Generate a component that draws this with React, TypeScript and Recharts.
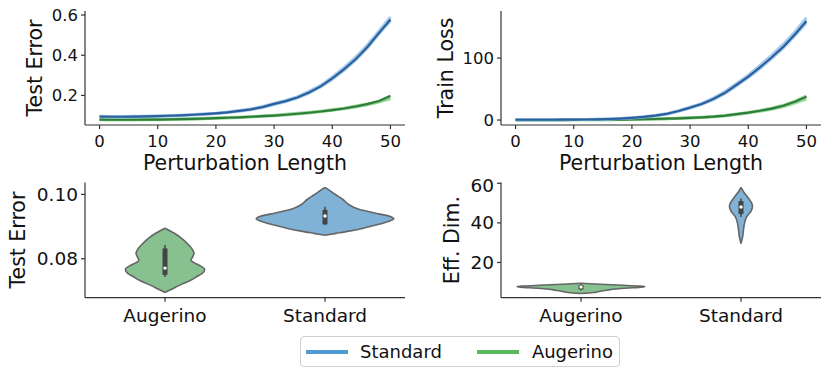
import { LineChart, Line, XAxis, YAxis, ComposedChart, Area, ReferenceLine, ReferenceDot } from 'recharts';

const F = 'DejaVu Sans';

// perturbation lengths
const steps = [0, 2, 4, 6, 8, 10, 12, 14, 16, 18, 20, 22, 24, 26, 28, 30, 32, 34, 36, 38, 40, 42, 44, 46, 48, 50];

// test error per run
const errStd = [0.095, 0.094, 0.094, 0.095, 0.096, 0.097, 0.099, 0.101, 0.104, 0.107, 0.111, 0.116, 0.123, 0.131, 0.142, 0.158, 0.172, 0.19, 0.215, 0.245, 0.285, 0.33, 0.38, 0.44, 0.51, 0.578];
const errStdB = [0.096, 0.095, 0.095, 0.096, 0.097, 0.098, 0.1, 0.102, 0.105, 0.108, 0.112, 0.118, 0.125, 0.133, 0.145, 0.16, 0.175, 0.194, 0.22, 0.25, 0.292, 0.338, 0.39, 0.45, 0.52, 0.59];
const errStdC = [0.094, 0.093, 0.093, 0.094, 0.095, 0.096, 0.098, 0.1, 0.103, 0.106, 0.11, 0.115, 0.121, 0.129, 0.14, 0.155, 0.17, 0.188, 0.212, 0.242, 0.28, 0.325, 0.375, 0.435, 0.505, 0.572];
const errAug = [0.08, 0.079, 0.079, 0.079, 0.08, 0.08, 0.081, 0.082, 0.083, 0.085, 0.087, 0.089, 0.091, 0.094, 0.097, 0.1, 0.104, 0.109, 0.114, 0.12, 0.127, 0.135, 0.145, 0.157, 0.172, 0.198];
const errAugB = [0.081, 0.08, 0.08, 0.08, 0.081, 0.081, 0.082, 0.083, 0.084, 0.086, 0.088, 0.09, 0.092, 0.095, 0.098, 0.101, 0.106, 0.111, 0.116, 0.122, 0.129, 0.137, 0.147, 0.158, 0.17, 0.188];
const errAugC = [0.079, 0.078, 0.078, 0.078, 0.079, 0.079, 0.08, 0.081, 0.082, 0.084, 0.086, 0.088, 0.09, 0.093, 0.096, 0.099, 0.103, 0.108, 0.113, 0.119, 0.126, 0.134, 0.143, 0.154, 0.167, 0.185];

// train loss per run
const lossStd = [0.5, 0.5, 0.5, 0.5, 0.6, 0.7, 0.9, 1.2, 1.7, 2.4, 3.5, 5, 7, 10, 14.5, 20, 26, 34, 44, 57, 70, 85, 101, 118, 138, 160];
const lossStdB = [0.5, 0.5, 0.5, 0.5, 0.6, 0.7, 0.9, 1.3, 1.8, 2.5, 3.6, 5.2, 7.3, 10.4, 15, 20.8, 27, 35.5, 46, 59, 72.5, 88, 104.5, 122, 142, 165];
const lossStdC = [0.5, 0.5, 0.5, 0.5, 0.6, 0.7, 0.9, 1.2, 1.6, 2.3, 3.4, 4.8, 6.8, 9.7, 14, 19.4, 25.3, 33, 43, 55.5, 68.5, 83, 99, 116, 136, 157];
const lossAug = [0.2, 0.2, 0.2, 0.2, 0.2, 0.3, 0.3, 0.4, 0.5, 0.7, 1, 1.3, 1.7, 2.2, 2.8, 3.5, 4.3, 5.4, 7, 9.5, 12, 15, 18.5, 23, 29.5, 37.5];
const lossAugB = [0.2, 0.2, 0.2, 0.2, 0.2, 0.3, 0.3, 0.4, 0.5, 0.7, 1, 1.3, 1.6, 2.1, 2.7, 3.4, 4.2, 5.2, 6.7, 9, 11.4, 14.2, 17.4, 21.5, 27.5, 34];
const lossAugC = [0.2, 0.2, 0.2, 0.2, 0.2, 0.3, 0.3, 0.4, 0.5, 0.7, 1, 1.3, 1.7, 2.2, 2.9, 3.6, 4.4, 5.6, 7.2, 9.8, 12.4, 15.5, 19, 23.8, 30.5, 39];

// violins: levels and half-widths (in category units)
const cats = ['Augerino', 'Standard'];
const augErrLevels = [0.0695, 0.0703, 0.0712, 0.0722, 0.0733, 0.0745, 0.0754, 0.0767, 0.078, 0.0788, 0.0796, 0.0805, 0.0817, 0.083, 0.0848, 0.0865, 0.088, 0.0895];
const augErrWidths = [0, 0.03, 0.067, 0.11, 0.16, 0.2, 0.231, 0.248, 0.213, 0.18, 0.163, 0.172, 0.181, 0.17, 0.138, 0.1, 0.056, 0];
const stdErrLevels = [0.0873, 0.0879, 0.0886, 0.0895, 0.0905, 0.0915, 0.0924, 0.0934, 0.0942, 0.0949, 0.0958, 0.0968, 0.0985, 0.0999, 0.1012, 0.1022];
const stdErrWidths = [0, 0.07, 0.15, 0.24, 0.32, 0.39, 0.43, 0.39, 0.31, 0.25, 0.19, 0.15, 0.11, 0.067, 0.03, 0];
const augDimLevels = [4.3, 4.8, 5.5, 6.0, 6.5, 7.0, 7.5, 7.8, 8.1, 8.5, 9.0, 9.5];
const augDimWidths = [0, 0.08, 0.12, 0.16, 0.2, 0.27, 0.38, 0.4, 0.36, 0.26, 0.12, 0];
const stdDimLevels = [29.6, 32.9, 35.5, 38, 40.5, 43, 45.6, 48.1, 49.8, 52.3, 54.8, 56.5, 57.9];
const stdDimWidths = [0, 0.01, 0.014, 0.018, 0.024, 0.035, 0.06, 0.072, 0.068, 0.048, 0.024, 0.01, 0];

// box stats: [whisker lo, q1, median, q3, whisker hi]
const augErrBox = [0.0743, 0.075, 0.0771, 0.0832, 0.0843];
const stdErrBox = [0.0905, 0.0907, 0.0933, 0.0952, 0.0962];
const augDimBox = [5.8, 6.4, 7.6, 8.6, 9.2];
const stdDimBox = [43, 44.5, 48, 51, 52.3];

const BLUE = '#2c5f9e';
const BLUE_L = '#8fbfe6';
const GREEN = '#2f7d3a';
const GREEN_L = '#86cf86';

const lineRows = (a: number[], b: number[], c: number[], d: number[], e: number[], f: number[]) =>
  steps.map((x, i) => ({ x, s1: a[i], s2: b[i], s3: c[i], a1: d[i], a2: e[i], a3: f[i] }));

const errRows = lineRows(errStd, errStdB, errStdC, errAug, errAugB, errAugC);
const lossRows = lineRows(lossStd, lossStdB, lossStdC, lossAug, lossAugB, lossAugC);

const violinRows = (aL: number[], aW: number[], sL: number[], sW: number[]) => {
  const rows: any[] = [];
  aL.forEach((v, i) => rows.push({ v, aug: [0 - aW[i], 0 + aW[i]], std: [null, null] }));
  sL.forEach((v, i) => rows.push({ v, aug: [null, null], std: [1 - sW[i], 1 + sW[i]] }));
  return rows.sort((p, q) => p.v - q.v);
};

const errViolin = violinRows(augErrLevels, augErrWidths, stdErrLevels, stdErrWidths);
const dimViolin = violinRows(augDimLevels, augDimWidths, stdDimLevels, stdDimWidths);

const tick = (size: number) => ({ fontSize: size, fill: '#111', fontFamily: F });
const axisLine = { stroke: '#333', strokeWidth: 1.2 };

function yLabel(value: string, offset: number) {
  return { value, angle: -90, position: 'insideLeft' as const, offset, fontSize: 20.5, fill: '#111', fontFamily: F, style: { textAnchor: 'middle' } };
}

function Curves({ rows, yDomain, yTicks, fmt, label, labelOffset, yWidth }: any) {
  return (
    <LineChart width={yWidth === 85 ? 415 : 416} height={175} data={rows} margin={{ top: 11, right: 10, bottom: 0, left: 0 }}>
      <XAxis dataKey="x" type="number" domain={[-2.5, 52.5]} ticks={[0, 10, 20, 30, 40, 50]} allowDataOverflow
        height={50} tick={tick(16.5)} tickSize={4} tickMargin={6} axisLine={axisLine} tickLine={axisLine}
        label={{ value: 'Perturbation Length', position: 'insideBottom', offset: 5, fontSize: 20.5, fill: '#111', fontFamily: F }} />
      <YAxis type="number" domain={yDomain} ticks={yTicks} tickFormatter={fmt} allowDataOverflow width={yWidth}
        tick={tick(16.5)} tickSize={4} tickMargin={3} axisLine={axisLine} tickLine={axisLine}
        label={yLabel(label, labelOffset)} />
      <Line dataKey="a2" stroke={GREEN_L} strokeWidth={3} strokeOpacity={0.8} dot={false} isAnimationActive={false} />
      <Line dataKey="a3" stroke={GREEN_L} strokeWidth={3} strokeOpacity={0.8} dot={false} isAnimationActive={false} />
      <Line dataKey="a1" stroke={GREEN} strokeWidth={2.2} dot={false} isAnimationActive={false} />
      <Line dataKey="s2" stroke={BLUE_L} strokeWidth={3} strokeOpacity={0.8} dot={false} isAnimationActive={false} />
      <Line dataKey="s3" stroke={BLUE_L} strokeWidth={3} strokeOpacity={0.8} dot={false} isAnimationActive={false} />
      <Line dataKey="s1" stroke={BLUE} strokeWidth={2.2} dot={false} isAnimationActive={false} />
    </LineChart>
  );
}

function Violins({ rows, yDomain, yTicks, fmt, label, labelOffset, yWidth, boxes }: any) {
  return (
    <ComposedChart layout="vertical" width={yWidth === 85 ? 415 : 416} height={160} data={rows} margin={{ top: 7.5, right: 10, bottom: 0, left: 0 }}>
      <XAxis type="number" domain={[-0.5, 1.5]} ticks={[0, 1]} tickFormatter={(i: number) => cats[i]} allowDataOverflow
        height={37.3} tick={tick(18.5)} tickSize={4} tickMargin={7} axisLine={axisLine} tickLine={axisLine} />
      <YAxis type="number" dataKey="v" reversed domain={yDomain} ticks={yTicks} tickFormatter={fmt} allowDataOverflow width={yWidth}
        tick={tick(18.5)} tickSize={4} tickMargin={3} axisLine={axisLine} tickLine={axisLine}
        label={yLabel(label, labelOffset)} />
      <Area dataKey="aug" type="monotone" fill="#87c18f" fillOpacity={1} stroke="#666" strokeWidth={1.6} connectNulls isAnimationActive={false} />
      <Area dataKey="std" type="monotone" fill="#80b1d6" fillOpacity={1} stroke="#666" strokeWidth={1.6} connectNulls isAnimationActive={false} />
      {boxes.map((b: number[], i: number) => [
        <ReferenceLine key={`w${i}`} segment={[{ x: i, y: b[0] }, { x: i, y: b[4] }]} stroke="#444" strokeWidth={1.5} />,
        <ReferenceLine key={`b${i}`} segment={[{ x: i, y: b[1] }, { x: i, y: b[3] }]} stroke="#444" strokeWidth={5} />,
        <ReferenceDot key={`m${i}`} x={i} y={b[2]} r={1.7} fill="#fff" stroke="none" />,
      ])}
    </ComposedChart>
  );
}

export default function App() {
  const pos = (left: number, top: number) => ({ position: 'absolute' as const, left, top });
  return (
    <div style={{ position: 'absolute', left: 0, top: 0, width: 831, height: 378, background: '#fff', fontFamily: F }}>
      <div style={pos(0, 0)}>
        <Curves rows={errRows} yDomain={[0.053, 0.62]} yTicks={[0.2, 0.4, 0.6]} fmt={(v: number) => v.toFixed(1)}
          label="Test Error" labelOffset={35} yWidth={85} />
      </div>
      <div style={pos(415, 0)}>
        <Curves rows={lossRows} yDomain={[-8, 176]} yTicks={[0, 100]} fmt={(v: number) => String(v)}
          label="Train Loss" labelOffset={31} yWidth={86} />
      </div>
      <div style={pos(0, 175)}>
        <Violins rows={errViolin} yDomain={[0.0679, 0.1037]} yTicks={[0.08, 0.1]} fmt={(v: number) => v.toFixed(2)}
          label="Test Error" labelOffset={17.5} yWidth={85} boxes={[augErrBox, stdErrBox]} />
      </div>
      <div style={pos(415, 175)}>
        <Violins rows={dimViolin} yDomain={[2.2, 60.4]} yTicks={[20, 40, 60]} fmt={(v: number) => String(v)}
          label="Eff. Dim." labelOffset={36.7} yWidth={86} boxes={[augDimBox, stdDimBox]} />
      </div>
      <div style={{ position: 'absolute', left: 300, top: 336, width: 320, height: 31, border: '1px solid #d0d0d0', borderRadius: 4,
        display: 'flex', alignItems: 'center', fontSize: 18, color: '#111', boxSizing: 'border-box' }}>
        <span style={{ display: 'inline-block', width: 42, height: 4, background: '#4f9bd4', marginLeft: 5 }} />
        <span style={{ marginLeft: 12 }}>Standard</span>
        <span style={{ display: 'inline-block', width: 42, height: 4, background: '#5cb85c', marginLeft: 35 }} />
        <span style={{ marginLeft: 13 }}>Augerino</span>
      </div>
    </div>
  );
}
